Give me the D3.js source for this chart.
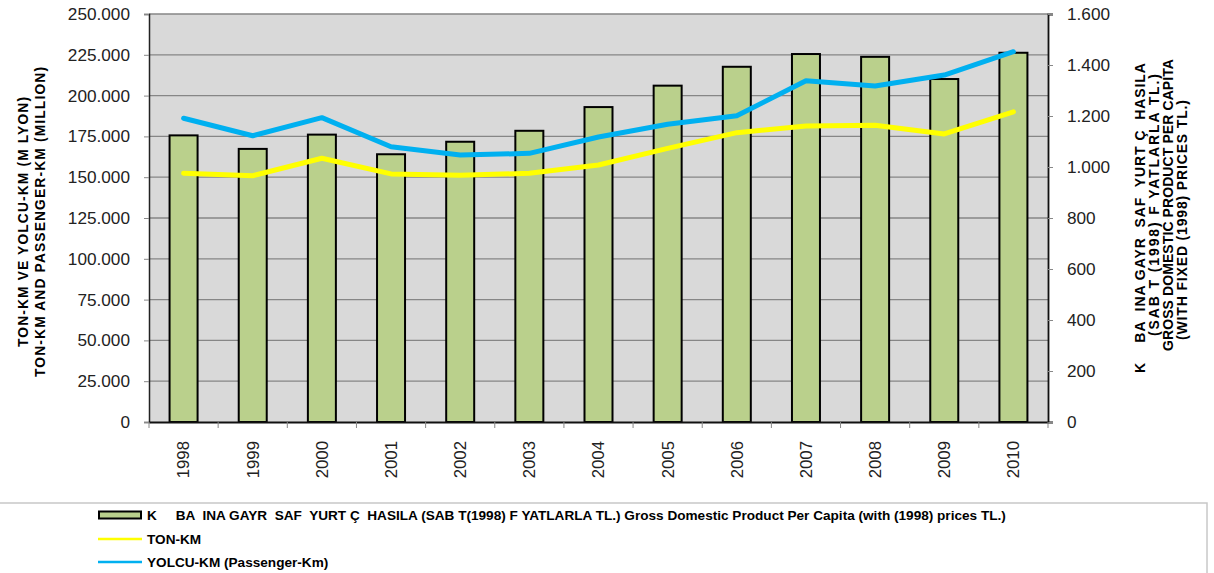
<!DOCTYPE html>
<html>
<head>
<meta charset="utf-8">
<script src="https://cdn.jsdelivr.net/npm/d3@7"></script>
<style>
  body { margin: 0; background: #fff; }
  svg { font-family: "Liberation Sans", Arial, sans-serif; }
  .pre { white-space: pre; }
</style>
</head>
<body>
<div id="chart"></div>
<script>
// years on the x axis
const years = ["1998", "1999", "2000", "2001", "2002", "2003", "2004",
  "2005", "2006", "2007", "2008", "2009", "2010"];

// GDP per capita (bars, right axis)
const gdpPerCapita = [1124, 1071, 1127, 1050, 1099, 1142, 1235, 1319, 1393, 1443, 1432, 1345, 1448];

// ton-km and passenger-km, million (lines, left axis)
const tonKm = [152400, 150900, 161600, 152000, 151200, 152400, 157500, 167700, 177300, 181400, 181800, 176500, 190100];
const yolcuKm = [186100, 175400, 186500, 168700, 163600, 164600, 174600, 182400, 187700, 209100, 205900, 212600, 226900];

const leftTicks = [0, 25000, 50000, 75000, 100000, 125000, 150000, 175000, 200000, 225000, 250000];
const rightTicks = [0, 200, 400, 600, 800, 1000, 1200, 1400, 1600];

const leftTitle = ["TON-KM VE YOLCU-KM (M LYON)", "TON-KM AND PASSENGER-KM (MILLION)"];
const rightTitle = ["K    BA  INA GAYR  SAF  YURT Ç  HASILA", "(SAB T (1998) F YATLARLA TL.)",
  "GROSS DOMESTIC PRODUCT PER CAPITA", "(WITH FIXED (1998) PRICES TL.)"];
const legendLabels = [
  "K     BA  INA GAYR  SAF  YURT Ç  HASILA (SAB T(1998) F YATLARLA TL.) Gross Domestic Product Per Capita (with (1998) prices TL.)",
  "TON-KM",
  "YOLCU-KM (Passenger-Km)"
];

const W = 1214, H = 573;
const plot = { left: 149, right: 1048, top: 14, bottom: 422 };

const svg = d3.select("#chart").append("svg").attr("width", W).attr("height", H);

const trFormat = d3.formatLocale({ decimal: ",", thousands: ".", grouping: [3], currency: ["", ""] }).format(",d");

const x = d3.scaleBand().domain(years).range([plot.left, plot.right]);
const yL = d3.scaleLinear().domain([0, 250000]).range([plot.bottom, plot.top]);
const yR = d3.scaleLinear().domain([0, 1600]).range([plot.bottom, plot.top]);

// plot background
svg.append("rect")
  .attr("x", plot.left).attr("y", plot.top)
  .attr("width", plot.right - plot.left).attr("height", plot.bottom - plot.top)
  .attr("fill", "#d9d9d9");

// gridlines
svg.append("g").selectAll("line").data(leftTicks.slice(1)).join("line")
  .attr("x1", plot.left).attr("x2", plot.right)
  .attr("y1", d => yL(d)).attr("y2", d => yL(d))
  .attr("stroke", "#868686").attr("stroke-width", 1.3);

// left axis
const axL = svg.append("g").attr("transform", `translate(${plot.left},0)`)
  .call(d3.axisLeft(yL).tickValues(leftTicks).tickFormat(trFormat).tickSize(5).tickPadding(14));
axL.select(".domain").attr("stroke", "#222").attr("stroke-width", 1.5);
axL.selectAll(".tick line").attr("stroke", "#888");
axL.selectAll("text").attr("font-size", 17.2).attr("fill", "#222").attr("font-family", "Liberation Sans, Arial");

// right axis
const axR = svg.append("g").attr("transform", `translate(${plot.right},0)`)
  .call(d3.axisRight(yR).tickValues(rightTicks).tickFormat(trFormat).tickSize(5).tickPadding(14));
axR.select(".domain").attr("stroke", "#111").attr("stroke-width", 1.8);
axR.selectAll(".tick line").attr("stroke", "#888");
axR.selectAll("text").attr("font-size", 17.2).attr("fill", "#222").attr("font-family", "Liberation Sans, Arial");

// bars
svg.append("g").selectAll("rect").data(gdpPerCapita).join("rect")
  .attr("x", (d, i) => x(years[i]) + x.bandwidth() / 2 - 14)
  .attr("width", 28)
  .attr("y", d => yR(d))
  .attr("height", d => plot.bottom - yR(d))
  .attr("fill", "#bad08c")
  .attr("stroke", "#000").attr("stroke-width", 2);

// bottom axis
const axB = svg.append("g").attr("transform", `translate(0,${plot.bottom})`)
  .call(d3.axisBottom(x).tickSize(0).tickPadding(0));
axB.select(".domain").attr("stroke", "#111").attr("stroke-width", 2);
axB.selectAll(".tick text")
  .attr("transform", "rotate(-90)")
  .attr("text-anchor", "end")
  .attr("x", -19).attr("y", 0).attr("dy", "0.35em")
  .attr("font-size", 16.8).attr("fill", "#222").attr("font-family", "Liberation Sans, Arial");
// category separators below the axis
svg.append("g").selectAll("line").data(years.concat(["end"])).join("line")
  .attr("x1", (d, i) => plot.left + i * x.step()).attr("x2", (d, i) => plot.left + i * x.step())
  .attr("y1", plot.bottom).attr("y2", plot.bottom + 6)
  .attr("stroke", "#888");

// lines
const lineGen = d3.line().x((d, i) => x(years[i]) + x.bandwidth() / 2).y(d => yL(d));
svg.append("path").datum(tonKm).attr("d", lineGen)
  .attr("fill", "none").attr("stroke", "#ffff00").attr("stroke-width", 5)
  .attr("stroke-linejoin", "round").attr("stroke-linecap", "round");
svg.append("path").datum(yolcuKm).attr("d", lineGen)
  .attr("fill", "none").attr("stroke", "#00b0f0").attr("stroke-width", 5)
  .attr("stroke-linejoin", "round").attr("stroke-linecap", "round");

// left axis title (spread out like the original export)
const leftX = [23, 40];
const leftLen = [250, 310];
leftTitle.forEach((t, i) => {
  svg.append("text")
    .attr("transform", `translate(${leftX[i]},222) rotate(-90)`)
    .attr("text-anchor", "middle").attr("dy", "0.35em")
    .attr("textLength", leftLen[i]).attr("lengthAdjust", "spacing")
    .attr("font-size", 13.8).attr("font-weight", "bold").attr("fill", "#000")
    .text(t);
});

// right axis title
const rightX = [1140, 1154, 1168, 1182];
const rightY = [218, 205, 205, 220];
const rightLen = [310, 262, 292, 240];
rightTitle.forEach((t, i) => {
  svg.append("text").attr("class", "pre")
    .attr("transform", `translate(${rightX[i]},${rightY[i]}) rotate(-90)`)
    .attr("text-anchor", "middle").attr("dy", "0.35em")
    .attr("textLength", rightLen[i]).attr("lengthAdjust", "spacing")
    .attr("font-size", 14).attr("font-weight", "bold").attr("fill", "#000")
    .text(t);
});

// legend
const lg = svg.append("g");
lg.append("rect")
  .attr("x", -2).attr("y", 503).attr("width", 1209).attr("height", 80)
  .attr("fill", "#fff").attr("stroke", "#c8c8c8").attr("stroke-width", 1.5);
const rowY = [515, 539, 562];
lg.append("rect").attr("x", 99).attr("y", rowY[0] - 3.5).attr("width", 42).attr("height", 7)
  .attr("fill", "#bad08c").attr("stroke", "#000").attr("stroke-width", 2);
lg.append("line").attr("x1", 98).attr("x2", 142).attr("y1", rowY[1]).attr("y2", rowY[1])
  .attr("stroke", "#ffff00").attr("stroke-width", 2.5);
lg.append("line").attr("x1", 98).attr("x2", 142).attr("y1", rowY[2]).attr("y2", rowY[2])
  .attr("stroke", "#00b0f0").attr("stroke-width", 2.5);
legendLabels.forEach((t, i) => {
  lg.append("text").attr("class", "pre")
    .attr("x", 147).attr("y", rowY[i]).attr("dy", "0.35em")
    .attr("font-size", 13.6).attr("font-weight", "bold").attr("fill", "#000")
    .text(t);
});
</script>
</body>
</html>
